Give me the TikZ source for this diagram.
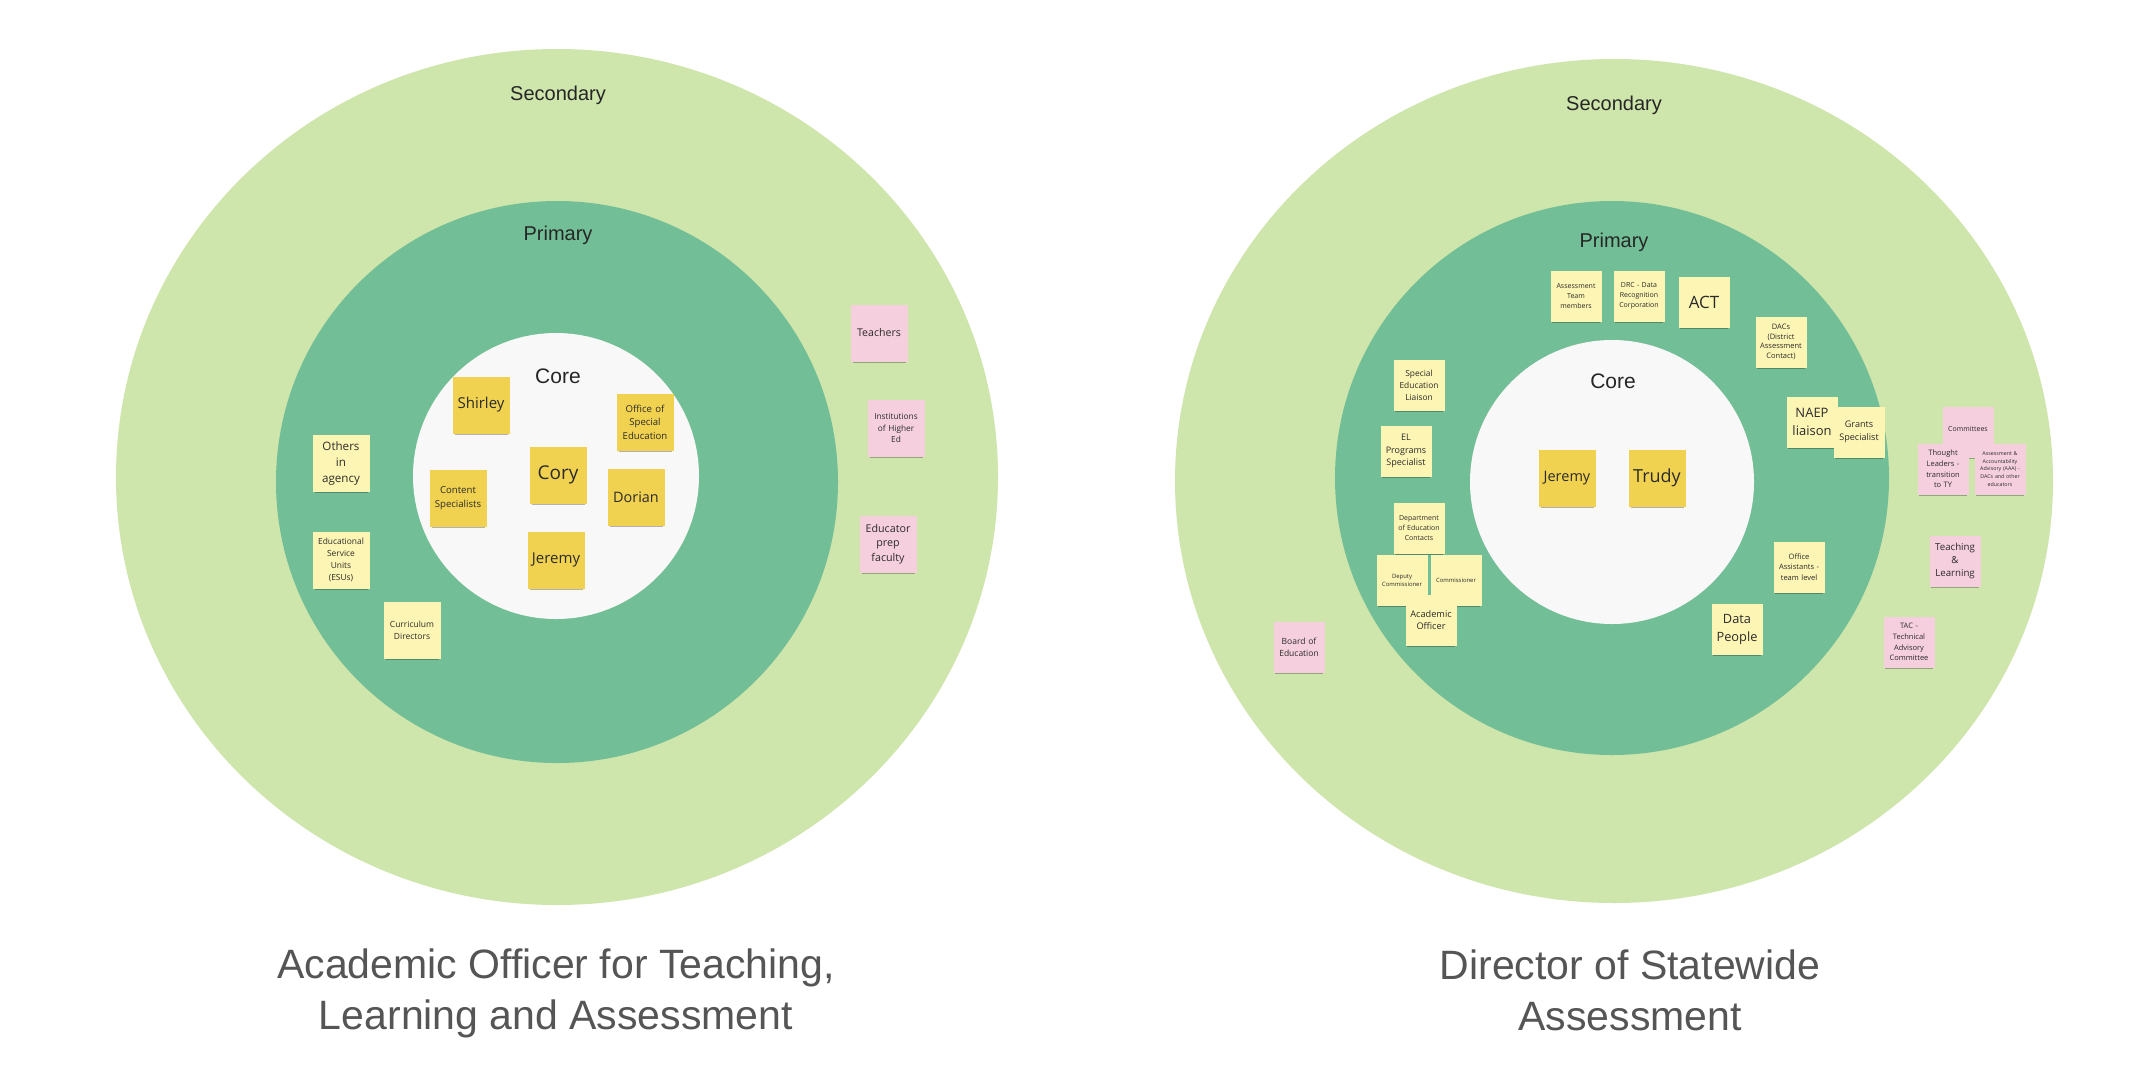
\documentclass[tikz,border=0pt]{standalone}
\usepackage{fontspec}
\setmainfont{Open Sans}
\newfontfamily\labelfont{Liberation Sans}
\usetikzlibrary{shadows}
\newcommand\nf[2]{\fontsize{#1}{#2}\selectfont}
\definecolor{outergreen}{HTML}{CEE5AC}
\definecolor{primgreen}{HTML}{72BE96}
\definecolor{corewhite}{HTML}{F8F8F8}
\definecolor{coreyellow}{HTML}{F1D250}
\definecolor{lightyellow}{HTML}{FDF5B4}
\definecolor{pinknote}{HTML}{F5CFDD}
\definecolor{notetext}{HTML}{2B2B2B}
\definecolor{titlegray}{HTML}{555555}
\tikzset{
  notebase/.style={rectangle, inner sep=0pt, align=center, text=notetext,
    general shadow={fill=black, opacity=0.28, shadow yshift=-4pt, shadow scale=0.93}},
  bignote/.style={notebase, minimum width=57pt, minimum height=57pt, text width=53pt},
  smallnote/.style={notebase, minimum width=51pt, minimum height=51pt, text width=48pt},
  corenote/.style={bignote, fill=coreyellow},
  primnote/.style={bignote, fill=lightyellow},
  secnote/.style={bignote, fill=pinknote},
  sprimnote/.style={smallnote, fill=lightyellow},
  ssecnote/.style={smallnote, fill=pinknote},
  ringlabel/.style={inner sep=0pt, font=\labelfont\fontsize{20}{24}\selectfont, text=black!85},
  titlelabel/.style={inner sep=0pt, align=center, text=titlegray,
    font=\labelfont\fontsize{41}{51}\selectfont}
}
\begin{document}
\begin{tikzpicture}[x=1pt,y=-1pt]
\useasboundingbox (0,0) rectangle (2146,1074);
\fill[white] (0,0) rectangle (2146,1074);
% ---------------- left diagram ----------------
\fill[outergreen] (557,477) ellipse [x radius=441pt, y radius=428pt];
\fill[primgreen] (557,482) circle [radius=281pt];
\fill[corewhite] (556,476) circle [radius=143pt];
\node[ringlabel] (secA) at (558,95) {Secondary};
\node[ringlabel] (primA) at (558,235) {Primary};
\node[ringlabel, font=\labelfont\fontsize{21}{24}\selectfont] (coreA) at (558,376) {Core};

\node[corenote, font=\nf{15}{18}] (shirley) at (481,405) {Shirley};
\node[corenote, font=\nf{9.6}{13.4}] (ospe) at (645,422) {Office of\\Special\\Education};
\node[corenote, font=\nf{19}{22}] (cory) at (558,475) {Cory};
\node[corenote, font=\nf{9.6}{13.7}] (contsp) at (458,498) {Content\\Specialists};
\node[corenote, font=\nf{14.4}{17}] (dorian) at (636,497) {Dorian};
\node[corenote, font=\nf{15}{18}] (jeremyA) at (556,560) {Jeremy};
\node[primnote, font=\nf{11.6}{16}] (others) at (341,463) {Others\\in\\agency};
\node[primnote, font=\nf{8.4}{12}] (esu) at (341,560) {Educational\\Service\\Units\\(ESUs)};
\node[primnote, font=\nf{8.5}{12}] (curr) at (412,630) {Curriculum\\Directors};
\node[secnote, font=\nf{10.6}{14}] (teach) at (879,333) {Teachers};
\node[secnote, font=\nf{8.3}{11.7}] (ihe) at (896,428) {Institutions\\of Higher\\Ed};
\node[secnote, font=\nf{10.7}{14.5}] (edprep) at (888,544) {Educator\\prep\\faculty};

\node[titlelabel] (titleA) at (556,993) {Academic Officer for Teaching,\\Learning and Assessment};

% ---------------- right diagram ----------------
\fill[outergreen] (1614,481) ellipse [x radius=439pt, y radius=422pt];
\fill[primgreen] (1612,478) circle [radius=277pt];
\fill[corewhite] (1612,482) circle [radius=142pt];
\node[ringlabel] (secB) at (1614,105) {Secondary};
\node[ringlabel] (primB) at (1614,242) {Primary};
\node[ringlabel, font=\labelfont\fontsize{21}{24}\selectfont] (coreB) at (1613,381) {Core};

\node[corenote, font=\nf{14.5}{18}] (jeremyB) at (1567,478) {Jeremy};
\node[corenote, font=\nf{18}{22}] (trudy) at (1657,478) {Trudy};

\node[sprimnote, font=\nf{7}{9.7}] (astm) at (1576,296) {Assessment\\Team\\members};
\node[sprimnote, font=\nf{7}{9.7}] (drc) at (1639,296) {DRC - Data\\Recognition\\Corporation};
\node[sprimnote, font=\nf{17}{20}] (act) at (1704,302) {ACT};
\node[sprimnote, font=\nf{7.5}{9.7}] (dacs) at (1781,342) {DACs\\(District\\Assessment\\Contact)};
\node[sprimnote, font=\nf{8.4}{12}] (sel) at (1419,385) {Special\\Education\\Liaison};
\node[sprimnote, font=\nf{9}{12.3}] (elps) at (1406,451) {EL\\Programs\\Specialist};
\node[sprimnote, font=\nf{7}{9.7}] (doec) at (1419,528) {Department\\of Education\\Contacts};
\node[sprimnote, font=\nf{5.9}{8}] (depc) at (1402,580) {Deputy\\Commissioner};
\node[sprimnote, font=\nf{5.9}{8}] (comm) at (1456,580) {Commissioner};
\node[sprimnote, font=\nf{9.2}{12.5}] (acoff) at (1431,620) {Academic\\Officer};
\node[sprimnote, font=\nf{13}{18}] (naep) at (1812,422) {NAEP\\liaison};
\node[sprimnote, font=\nf{9.1}{12.5}] (grants) at (1859,432) {Grants\\Specialist};
\node[sprimnote, font=\nf{7.5}{10.3}] (offa) at (1799,567) {Office\\Assistants -\\team level};
\node[sprimnote, font=\nf{12.8}{18}] (datap) at (1737,629) {Data\\People};

\node[ssecnote, font=\nf{7}{9.7}] (cmtes) at (1968,432) {\raisebox{7pt}{Committees}};
\node[ssecnote, font=\nf{7.5}{10.7}] (thought) at (1943,469) {Thought\\Leaders -\\transition\\to TY};
\node[ssecnote, font=\nf{5.3}{7.6}] (aaa) at (2000,469) {Assessment \&\\Accountability\\Advisory (AAA) -\\DACs and other\\educators};
\node[ssecnote, font=\nf{9.7}{13.3}] (tl) at (1955,561) {Teaching\\\&\\Learning};
\node[ssecnote, font=\nf{7.5}{10.7}] (tac) at (1909,642) {TAC -\\Technical\\Advisory\\Committee};
\node[ssecnote, font=\nf{8.5}{12}] (boe) at (1299,647) {Board of\\Education};

\node[titlelabel] (titleB) at (1630,990) {Director of Statewide\\Assessment};
\end{tikzpicture}
\end{document}
